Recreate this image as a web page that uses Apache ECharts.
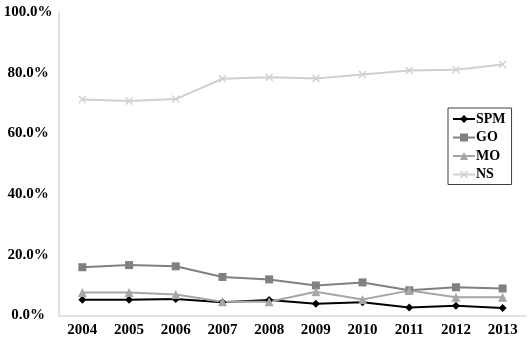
<!DOCTYPE html>
<html><head><meta charset="utf-8">
<script src="https://cdn.jsdelivr.net/npm/echarts@6/dist/echarts.min.js"></script>
<style>html,body{margin:0;padding:0;background:#fff}#c{width:528px;height:339px}</style>
</head><body><div id="c"></div>
<script>
const years = ['2004','2005','2006','2007','2008','2009','2010','2011','2012','2013'];
const spm = [5.2, 5.2, 5.4, 4.4, 5.1, 3.9, 4.4, 2.6, 3.2, 2.5];
const go  = [15.9, 16.6, 16.2, 12.7, 11.9, 9.9, 10.9, 8.3, 9.3, 8.9];
const mo  = [7.6, 7.6, 6.9, 4.5, 4.5, 7.8, 5.3, 8.2, 6.0, 6.0];
const ns  = [71.2, 70.7, 71.3, 78.0, 78.5, 78.1, 79.4, 80.7, 81.0, 82.7];
const seriesNames = ['SPM','GO','MO','NS'];

const xSym = 'path://M0,1.2L1.2,0L5,3.8L8.8,0L10,1.2L6.2,5L10,8.8L8.8,10L5,6.2L1.2,10L0,8.8L3.8,5Z';
const font = '"Liberation Serif","Times New Roman",serif';
const mk = (name, data, color, symbol, size) => ({
  name, type: 'line', data, symbol, symbolSize: size,
  lineStyle: {color, width: 2}, itemStyle: {color}, animation: false
});
const chart = echarts.init(document.getElementById('c'));
chart.setOption({
  animation: false,
  grid: {left: 59, right: 2, top: 12, bottom: 23.5},
  legend: {
    orient: 'vertical', left: 448, top: 108,
    data: seriesNames,
    borderColor: '#404040', borderWidth: 1,
    padding: [4, 6, 3, 4],
    itemWidth: 22, itemHeight: 10, itemGap: 4.5,
    textStyle: {fontFamily: font, fontWeight: 'bold', fontSize: 14, color: '#000', padding: [0,0,0,-4], lineHeight: 14}
  },
  xAxis: {
    type: 'category', data: years, boundaryGap: true,
    axisLine: {lineStyle: {color: '#d9d9d9', width: 1.5}},
    axisTick: {show: false},
    axisLabel: {fontFamily: font, fontWeight: 'bold', fontSize: 15, color: '#000', margin: 7}
  },
  yAxis: {
    type: 'value', min: 0, max: 100, interval: 20,
    axisLine: {show: true, lineStyle: {color: '#d9d9d9', width: 1.5}},
    axisTick: {show: false},
    splitLine: {show: false},
    axisLabel: {fontFamily: font, fontWeight: 'bold', fontSize: 15, color: '#000', margin: 31, align: 'center',
      formatter: v => v.toFixed(1) + '%'}
  },
  series: [
    mk('SPM', spm, '#000000', 'diamond', 8),
    mk('GO', go, '#808080', 'rect', 8),
    mk('MO', mo, '#a6a6a6', 'triangle', 9),
    mk('NS', ns, '#d0d0d0', xSym, 8)
  ]
});
</script></body></html>
